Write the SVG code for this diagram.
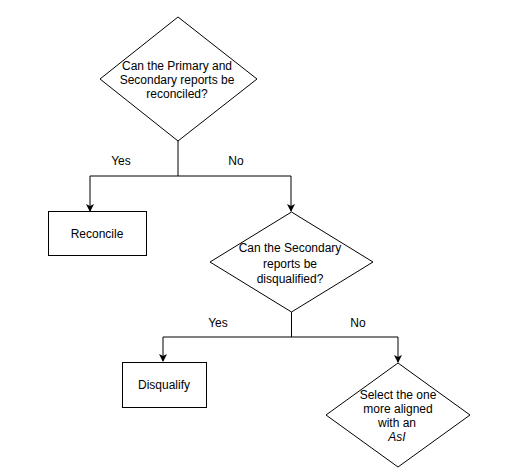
<svg xmlns="http://www.w3.org/2000/svg" width="519" height="474" viewBox="0 0 519 474">
<defs>
<marker id="arr" markerWidth="8" markerHeight="8" refX="7" refY="4" orient="auto" markerUnits="userSpaceOnUse">
<path d="M0,0 L8,4 L0,8 L2,4 Z" fill="#000"/>
</marker>
<style>
.shape{fill:#fff;stroke:#000;stroke-width:1}
.edge{fill:none;stroke:#000;stroke-width:1}
text{font-family:"Liberation Sans",Arial,sans-serif;font-size:12px;fill:#000;text-anchor:middle}
</style>
</defs>
<rect width="519" height="474" fill="#fff"/>
<g id="connectors">
<path class="edge" d="M178,141 V176"/>
<path class="edge" d="M90,176 H291"/>
<path class="edge" d="M90,176 V211" marker-end="url(#arr)"/>
<path class="edge" d="M291,176 V211" marker-end="url(#arr)"/>
<path class="edge" d="M291.5,312 V337"/>
<path class="edge" d="M163,337 H398"/>
<path class="edge" d="M163,337 V361" marker-end="url(#arr)"/>
<path class="edge" d="M398,337 V362" marker-end="url(#arr)"/>
<text x="121" y="165">Yes</text>
<text x="236" y="165">No</text>
<text x="218" y="327">Yes</text>
<text x="358" y="327">No</text>
</g>
<g id="q1">
<polygon class="shape" points="178,17 257,79 178,141 100,79"/>
<text x="177" y="70">Can the Primary and</text>
<text x="177" y="84">Secondary reports be</text>
<text x="177" y="98">reconciled?</text>
</g>
<g id="reconcile">
<rect class="shape" x="48.5" y="211.5" width="98" height="44"/>
<text x="97" y="238">Reconcile</text>
</g>
<g id="q2">
<polygon class="shape" points="291.5,212 373,262 291.5,312 210,262"/>
<text x="290" y="252">Can the Secondary</text>
<text x="290" y="268">reports be</text>
<text x="290" y="283">disqualified?</text>
</g>
<g id="disqualify">
<rect class="shape" x="122.5" y="362.5" width="84" height="45"/>
<text x="164" y="389">Disqualify</text>
</g>
<g id="select">
<polygon class="shape" points="398,363 470,415 398,467 326,415"/>
<text x="398" y="399">Select the one</text>
<text x="398" y="413">more aligned</text>
<text x="397" y="427">with an</text>
<text x="397" y="441" font-style="italic">AsI</text>
</g>
</svg>
